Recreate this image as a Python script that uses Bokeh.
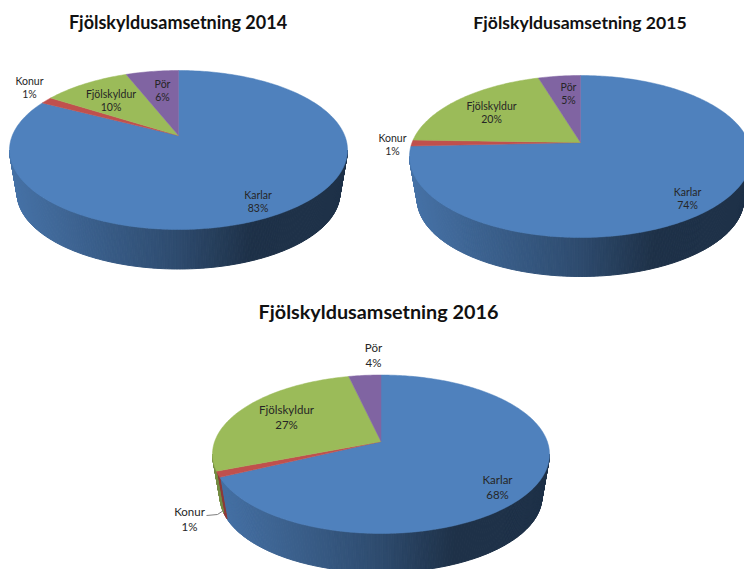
import numpy as np
from bokeh.plotting import figure
from bokeh.models import Range1d
from bokeh.core.properties import value
from bokeh.embed import file_html
from bokeh.resources import INLINE

# ---- data ----
categories = ["Karlar", "Konur", "Fjölskyldur", "Pör"]
values_2014 = [82.6, 1.4, 10.0, 6.0]
values_2015 = [74.3, 1.2, 19.8, 4.7]
values_2016 = [67.9, 1.2, 27.3, 3.6]
titles = ["Fjölskyldusamsetning 2014", "Fjölskyldusamsetning 2015", "Fjölskyldusamsetning 2016"]
colors = [(79, 129, 189), (192, 80, 77), (155, 187, 89), (128, 100, 162)]

# ---- layout (page pixels) ----
layouts = [
    dict(vals=values_2014, title=titles[0], cx=178, ay=135, top=70, bot=229, rx=169, side=268.5,
         tpos=(177.5, 21), tsize=18, lsize=10.5, lh=13,
         lpos=[(257.5, 194), (29, 80), (110.5, 93.5), (162, 83)]),
    dict(vals=values_2015, title=titles[1], cx=580, ay=142, top=75, bot=237, rx=171, side=276,
         tpos=(579.5, 22), tsize=17.6, lsize=10.5, lh=13,
         lpos=[(687, 191), (392, 137), (491, 105), (568, 86)]),
    dict(vals=values_2016, title=titles[2], cx=380.5, ay=441, top=374.5, bot=533, rx=168.5, side=572,
         tpos=(378, 310), tsize=19.8, lsize=11.5, lh=14.5,
         lpos=[(497, 479), (189, 511), (286, 409), (373, 347)]),
]
SCALE = 0.955
stops_u = [0.0, 0.5, 0.72, 1.0]
stops_f = [0.88, 0.58, 0.38, 0.38]

p = figure(width=744, height=569, x_range=Range1d(0, 744), y_range=Range1d(569, 0),
           output_backend="svg", toolbar_location=None,
           x_axis_location=None, y_axis_location=None, min_border=0,
           background_fill_color="white", border_fill_color="white")
p.outline_line_color = None
p.grid.visible = False


def rgb(c, f=1.0):
    return "#%02x%02x%02x" % tuple(int(round(v * f)) for v in c)


for L in layouts:
    up, down = L["ay"] - L["top"], L["bot"] - L["ay"]
    k = (down - up) / (down + up)
    b = up * (1 + k)
    a = L["rx"] * np.sqrt(1 - k ** 2)

    def rim(theta, scale=1.0, dy=0.0):
        X, Y = np.sin(theta), np.cos(theta)
        d = 1 + k * Y
        return L["cx"] + scale * a * X / d, L["ay"] + dy - scale * b * Y / d

    depth = L["side"] - L["ay"] - SCALE * down
    edges = np.radians(np.concatenate([[0], np.cumsum(L["vals"])]) * 3.6)
    t0 = np.arccos(-k)
    t1 = 2 * np.pi - t0

    # side wall: thin strips shaded across the width
    xs, ys, fc = [], [], []
    for i, c in enumerate(colors):
        lo, hi = max(edges[i], t0), min(edges[i + 1], t1)
        if hi <= lo:
            continue
        n = max(2, int((hi - lo) / np.radians(0.8)))
        th = np.linspace(lo, hi, n + 1)
        for j in range(n):
            x1, y1 = rim(th[j:j + 2])
            x2, y2 = rim(th[j:j + 2], SCALE, depth)
            xs.append([x1[0], x1[1], x2[1], x2[0]])
            ys.append([y1[0], y1[1], y2[1], y2[0]])
            u = (x1.mean() - (L["cx"] - L["rx"])) / (2 * L["rx"])
            fc.append(rgb(c, np.interp(u, stops_u, stops_f) * (1 if i == 0 else 0.85)))
    p.patches(xs, ys, fill_color=fc, line_color=fc, line_width=1)

    # top face
    xs, ys, fc = [], [], []
    for i, c in enumerate(colors):
        th = np.linspace(edges[i], edges[i + 1], max(3, int((edges[i + 1] - edges[i]) * 60)))
        x, y = rim(th)
        xs.append(np.r_[L["cx"], x])
        ys.append(np.r_[L["ay"], y])
        fc.append(rgb(c))
    p.patches(xs, ys, fill_color=fc, line_color=fc, line_width=0.5)

    # data labels
    names, pcts = categories, [f"{round(v)}%" for v in L["vals"]]
    lx = [q[0] for q in L["lpos"]]
    ly = [q[1] for q in L["lpos"]]
    for txt, yy in ((names, ly), (pcts, [v + L["lh"] for v in ly])):
        p.text(lx, yy, text=txt, text_font=value("Lato"), text_font_size=f"{L['lsize']}px",
               text_align="center", text_baseline="middle", text_color="#262626")

    # title
    p.text([L["tpos"][0]], [L["tpos"][1]], text=[L["title"]], text_font=value("Lato"),
           text_font_style="bold", text_font_size=f"{L['tsize']}px",
           text_align="center", text_baseline="middle", text_color="#111111")

# leader line of the 2016 Konur label
p.line([206, 217, 223], [515, 514, 510], line_color="#7f7f7f", line_width=1)

open("out.html", "w").write(file_html(p, INLINE))
